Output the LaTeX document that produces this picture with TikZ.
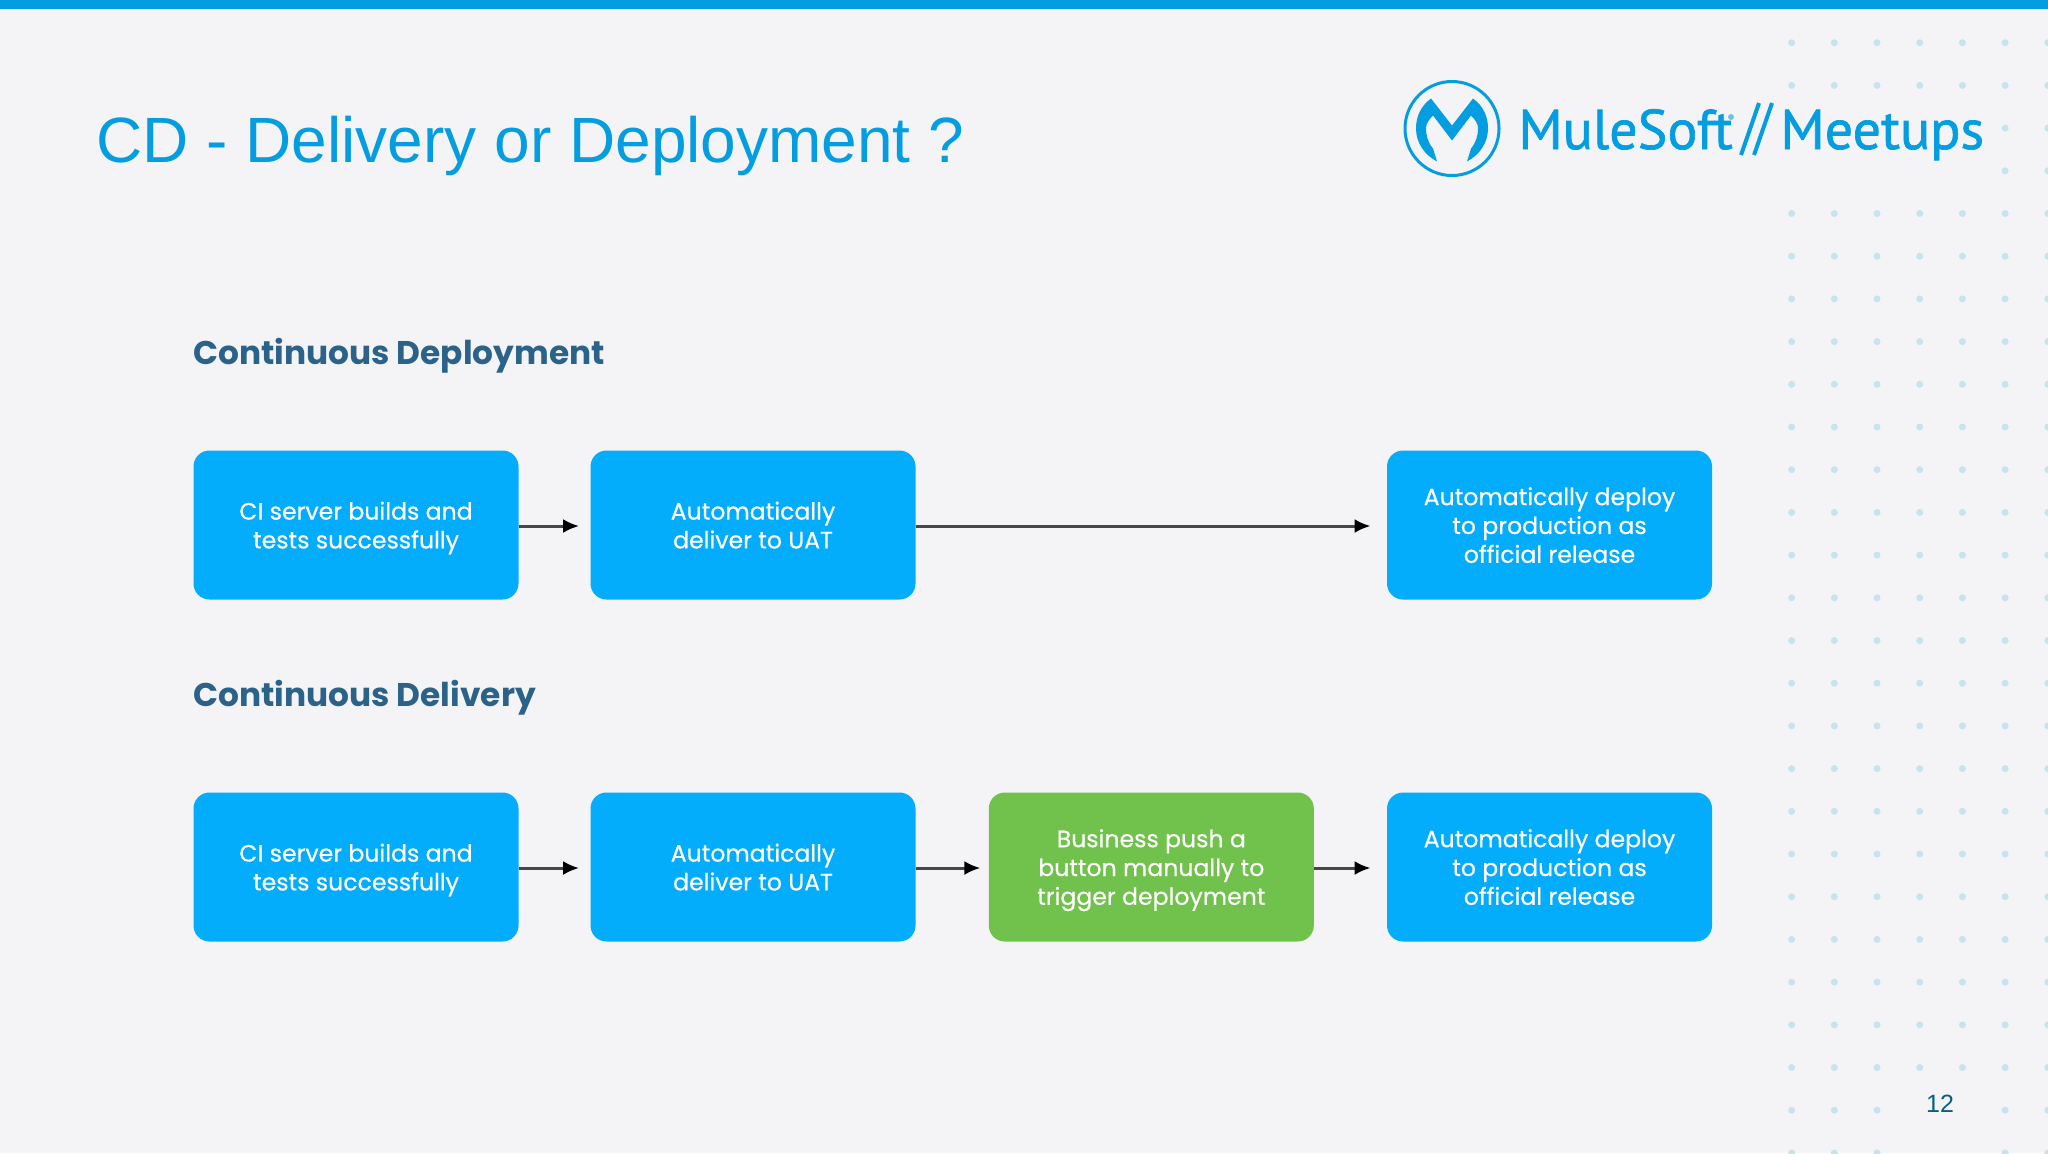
\documentclass[tikz,border=0pt]{standalone}
\usepackage{fontspec}
\usetikzlibrary{arrows.meta}
\setmainfont{Poppins}
\newfontfamily\titlefont{Liberation Sans}
\newfontfamily\logofont[FakeBold=1.2]{PT Sans}
\newfontfamily\boxfont[FakeBold=0.4]{Poppins}
\definecolor{barblue}{HTML}{049EE0}
\definecolor{paper}{HTML}{F4F4F6}
\definecolor{boxblue}{HTML}{03ADFC}
\definecolor{boxgreen}{HTML}{70C24C}
\definecolor{headblue}{HTML}{2A6289}
\definecolor{dotblue}{HTML}{C6E3EE}
\definecolor{pagenum}{HTML}{0B5F80}
\tikzset{
	box/.style={draw=none, rounded corners=8pt, minimum width=162.5pt, minimum height=74.5pt, inner sep=0pt, align=center, text=white, font=\fontsize{11.8}{14.4}\selectfont\boxfont, text depth=-0.3pt, execute at begin node=\strut},
	flow/.style={draw=black!72, line width=1.5pt, transform canvas={yshift=-0.5pt}, -{Latex[length=8pt,width=7pt,black]}},
	head/.style={anchor=base west, inner sep=0pt, text=headblue, font=\fontsize{16.4}{18}\selectfont\bfseries},
	logotext/.style={anchor=base west, inner sep=0pt, text=barblue, font=\fontsize{28}{30}\selectfont\logofont}
}
\begin{document}
\begin{tikzpicture}[x=0.5pt,y=-0.5pt]
	\useasboundingbox (0,0) rectangle (2048,1153);
	% slide background
	\fill[paper] (0,0) rectangle (2048,1153);
	\fill[barblue] (0,0) rectangle (2048,9);

	% dots on the right
	\foreach \row in {1,2,5,6,...,25}
		\foreach \col in {0,...,6}
			\fill[dotblue] ({1791.6+42.7*\col},{42.7*\row}) circle (3.5);
	\foreach \row in {3,4}
		\foreach \col in {5,6}
			\fill[dotblue] ({1791.6+42.7*\col},{42.7*\row}) circle (3.5);
	\foreach \row in {26,27}
		\foreach \col in {0,1,2,5,6}
			\fill[dotblue] ({1791.6+42.7*\col},{42.7*\row}) circle (3.5);

	% title
	\node[anchor=base west, inner sep=0pt, text=barblue, font=\fontsize{32}{36}\selectfont\titlefont] (title) at (96,162) {CD - Delivery or Deployment ?};

	% logo
	\draw[barblue, line width=1.5pt] (1452,128.5) circle (47);
	\fill[barblue, shift={(1452,128.5)}] (-21,-30) -- (0,-3) -- (21,-30)
		.. controls (32,-22) and (36,-11) .. (36,0) .. controls (36,14) and (28,26) .. (15,33)
		-- (19,20) .. controls (24,14) and (26,7) .. (26,0) .. controls (26,-5) and (23,-9) .. (19,-13)
		-- (0,12) -- (-19,-13) .. controls (-23,-9) and (-26,-5) .. (-26,0) .. controls (-26,7) and (-24,14) .. (-19,20)
		-- (-15,33) .. controls (-28,26) and (-36,14) .. (-36,0) .. controls (-36,-11) and (-32,-22) .. (-21,-30) -- cycle;
	\node[logotext] (mule) at (1518,149) {MuleSoft};
	\fill[barblue!60] (1731,117) circle (3);
	\draw[barblue, line width=2pt] (1741,155) -- (1759,103) (1754,155) -- (1772,103);
	\node[logotext] (meetups) at (1780,149) {Meetups};

	% Continuous Deployment
	\node[head] (headone) at (193,364) {Continuous Deployment};
	\node[box, fill=boxblue] (buildone) at (356,525) {CI server builds and\\tests successfully};
	\node[box, fill=boxblue] (uatone) at (753,525) {Automatically\\deliver to UAT};
	\node[box, fill=boxblue] (prodone) at (1549.5,525) {Automatically deploy\\to production as\\official release};
	\draw[flow, shorten >=5.5pt] (buildone) -- (uatone);
	\draw[flow, shorten >=8pt] (uatone) -- (prodone);

	% Continuous Delivery
	\node[head] (headtwo) at (193,706) {Continuous Delivery};
	\node[box, fill=boxblue] (buildtwo) at (356,867) {CI server builds and\\tests successfully};
	\node[box, fill=boxblue] (uattwo) at (753,867) {Automatically\\deliver to UAT};
	\node[box, fill=boxgreen] (push) at (1151.3,867) {Business push a\\button manually to\\trigger deployment};
	\node[box, fill=boxblue] (prodtwo) at (1549.5,867) {Automatically deploy\\to production as\\official release};
	\draw[flow, shorten >=5.5pt] (buildtwo) -- (uattwo);
	\draw[flow, shorten >=4pt] (uattwo) -- (push);
	\draw[flow, shorten >=8pt] (push) -- (prodtwo);

	% page number
	\node[inner sep=0pt, text=pagenum, font=\fontsize{12.5}{14}\selectfont\titlefont] (page) at (1940,1104) {12};
\end{tikzpicture}
\end{document}
